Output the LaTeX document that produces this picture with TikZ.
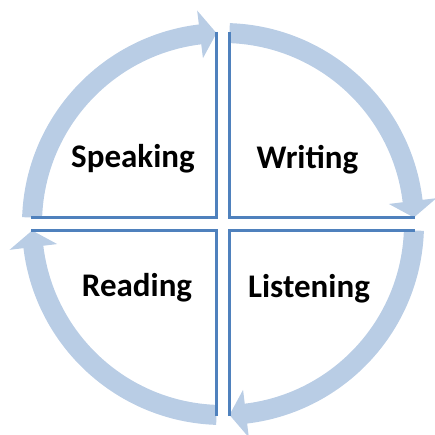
\documentclass[tikz,border=0pt]{standalone}
\usepackage{fontspec}
\setmainfont{Carlito}
\definecolor{band}{RGB}{185,205,229}
\definecolor{edge}{RGB}{79,129,189}
\begin{document}
\begin{tikzpicture}[x=1pt,y=1pt,
  arrowband/.style={fill=band,draw=none},
  divider/.style={draw=edge,line width=2.4pt},
  label/.style={font=\fontsize{33}{40}\selectfont\bfseries,anchor=base,inner sep=0pt}]
\useasboundingbox (-223,-210) rectangle (212,224);
\coordinate (c) at (0,0);
% arrows (clockwise)
\foreach \r in {0,-90,-180,-270}{
  \fill[arrowband]
    ({178.05+\r}:201) arc[start angle={178.05+\r}, end angle={96.9+\r}, radius=201]
    -- ({96.9+\r}:215) -- ({91.95+\r}:191) -- ({96.9+\r}:167)
    -- ({96.9+\r}:181) arc[start angle={96.9+\r}, end angle={178.05+\r}, radius=181] -- cycle;
}
% dividing lines
\coordinate (tl) at (-6.5,6.5);
\coordinate (tr) at (6.5,6.5);
\coordinate (bl) at (-6.5,-6.5);
\coordinate (br) at (6.5,-6.5);
\coordinate (tlN) at (-6.5,192);
\coordinate (trN) at (6.5,192);
\coordinate (blS) at (-6.5,-192);
\coordinate (brS) at (6.5,-192);
\coordinate (tlW) at (-192,6.5);
\coordinate (blW) at (-192,-6.5);
\coordinate (trE) at (192,6.5);
\coordinate (brE) at (192,-6.5);
\draw[divider] (tlN) -- (tl) -- (tlW);
\draw[divider] (trN) -- (tr) -- (trE);
\draw[divider] (brS) -- (br) -- (brE);
\draw[divider] (blS) -- (bl) -- (blW);
% labels
\node[label] (speaking) at (-90,57) {Speaking};
\node[label] (writing) at (84.5,56) {Writing};
\node[label] (reading) at (-86,-72.7) {Reading};
\node[label] (listening) at (86,-73) {Listening};
\end{tikzpicture}
\end{document}
